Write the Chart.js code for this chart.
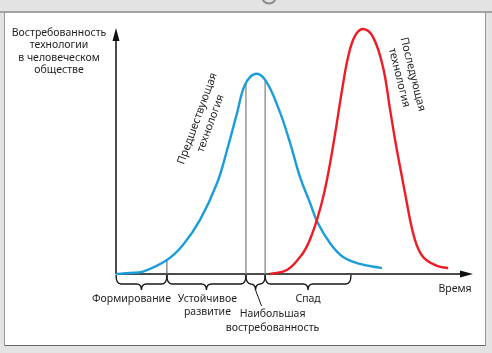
<!DOCTYPE html>
<html>
<head>
<meta charset="utf-8">
<script src="https://cdn.jsdelivr.net/npm/chart.js@4.4.0/dist/chart.umd.min.js"></script>
<style>
  html, body { margin: 0; padding: 0; background: #fff; }
  canvas { display: block; }
</style>
</head>
<body>
<canvas id="chart" width="492" height="353"></canvas>
<script>
// Demand curves (time 0..100, demand 0..100, arbitrary units)
const prevTime   = [0, 3.9, 7.6, 14.3, 18.8, 23.6, 28.4, 31.2, 34.0, 36.2, 39.0, 41.9, 45.8, 48.9, 51.7, 54.5, 56.7, 60.1, 63.8, 68.5, 74.7];
const prevDemand = [0, 0.4, 1.0, 5.7, 11.8, 22.0, 37.0, 50.4, 65.4, 76.8, 81.3, 78.9, 66.7, 53.3, 39.4, 28.9, 20.7, 12.6, 6.9, 4.1, 2.4];

const nextTime   = [43.3, 48.0, 51.7, 53.4, 55.1, 56.7, 58.4, 60.1, 61.8, 63.5, 65.2, 67.1, 69.4, 72.2, 75.0, 77.0, 78.4, 79.8, 81.5, 83.1, 84.8, 86.8, 90.2, 93.3];
const nextDemand = [0, 1.6, 6.9, 10.6, 16.3, 23.2, 32.5, 44.7, 59.3, 74.8, 88.2, 96.7, 99.6, 96.3, 84.1, 66.7, 54.5, 43.5, 30.5, 18.7, 10.6, 6.1, 3.3, 2.4];

// Life-cycle phases of the previous technology
const phaseBounds = [0, 14.3, 36.5, 41.9, 66.0];
const phaseLabels = [["Формирование"], ["Устойчивое", "развитие"], ["Наибольшая", "востребованность"], ["Спад"]];

// Vertical guides under the blue curve
const guideTime   = [14.3, 36.5, 41.9];
const guideDemand = [5.7, 77.6, 79.3];

const yTitle = ["Востребованность", "технологии", "в человеческом", "обществе"];
const xTitle = "Время";
const prevName = ["Предшествующая", "технология"];
const nextName = ["Последующая", "технология"];

const FONT = '"Noto Sans", "Open Sans", sans-serif';
const TEXT = '#1e1e1e';

const toPoints = (xs, ys) => xs.map((x, i) => ({ x, y: ys[i] }));

const guideSets = guideTime.map((t, i) => ({
  data: [{ x: t, y: 0 }, { x: t, y: guideDemand[i] }],
  borderColor: i === 0 ? '#555' : '#8e8e8e',
  borderWidth: i === 0 ? 1 : 1.4,
  pointRadius: 0,
  tension: 0,
  clip: false,
  order: 3,
}));

function lines(ctx, arr, x, y, lh) {
  arr.forEach((s, i) => ctx.fillText(s, x, y + i * lh));
}

function brace(ctx, x1, x2, y0) {
  const r = 5, ym = y0 + 9, tip = y0 + 15, xc = (x1 + x2) / 2;
  ctx.beginPath();
  ctx.moveTo(x1, y0);
  ctx.quadraticCurveTo(x1, ym, x1 + r, ym);
  ctx.lineTo(xc - r, ym);
  ctx.quadraticCurveTo(xc, ym, xc, tip);
  ctx.quadraticCurveTo(xc, ym, xc + r, ym);
  ctx.lineTo(x2 - r, ym);
  ctx.quadraticCurveTo(x2, ym, x2, y0);
  ctx.stroke();
}

const frame = {
  id: 'frame',
  beforeDraw(chart) {
    const c = chart.ctx;
    c.save();
    c.fillStyle = '#e3e3e3';
    c.fillRect(0, 0, chart.width, chart.height);
    c.fillStyle = '#fff';
    c.fillRect(5, 13, 480, 332);
    c.strokeStyle = '#a3a3a3';
    c.lineWidth = 2;
    c.beginPath(); c.moveTo(0, 12); c.lineTo(chart.width, 12); c.stroke();
    c.lineWidth = 1;
    c.strokeStyle = '#999';
    c.beginPath(); c.moveTo(4.5, 12); c.lineTo(4.5, 345.5); c.stroke();
    c.beginPath(); c.moveTo(485.5, 12); c.lineTo(485.5, 345.5); c.stroke();
    c.strokeStyle = '#666';
    c.beginPath(); c.moveTo(4.5, 345.5); c.lineTo(485.5, 345.5); c.stroke();
    c.strokeStyle = '#8c8c8c';
    c.lineWidth = 2;
    c.beginPath(); c.arc(269, -3.5, 7, 0, Math.PI); c.stroke();
    c.restore();
  },
  beforeDatasetsDraw(chart) {
    const c = chart.ctx, a = chart.chartArea;
    const x0 = a.left, y0 = a.bottom;
    c.save();
    c.strokeStyle = '#111';
    c.fillStyle = '#111';
    c.lineWidth = 1.5;
    c.beginPath();
    c.moveTo(x0, y0); c.lineTo(x0, a.top + 10);
    c.moveTo(x0, y0); c.lineTo(a.right - 10, y0);
    c.stroke();
    c.beginPath();
    c.moveTo(x0, a.top); c.lineTo(x0 - 3.5, a.top + 13); c.lineTo(x0 + 3.5, a.top + 13); c.closePath();
    c.fill();
    c.beginPath();
    c.moveTo(a.right + 1, y0); c.lineTo(a.right - 12, y0 - 3.5); c.lineTo(a.right - 12, y0 + 3.5); c.closePath();
    c.fill();
    c.restore();
  },
  afterDatasetsDraw(chart) {
    const c = chart.ctx, xs = chart.scales.x, a = chart.chartArea;
    c.save();
    c.strokeStyle = '#1a1a1a';
    c.lineWidth = 1.4;
    for (let i = 0; i < phaseLabels.length; i++) {
      brace(c, xs.getPixelForValue(phaseBounds[i]), xs.getPixelForValue(phaseBounds[i + 1]), a.bottom + 1);
    }
    // leader line for the peak phase
    const pc = (xs.getPixelForValue(phaseBounds[2]) + xs.getPixelForValue(phaseBounds[3])) / 2;
    c.lineWidth = 1;
    c.beginPath(); c.moveTo(pc, a.bottom + 16); c.lineTo(pc + 6, a.bottom + 32); c.stroke();

    c.fillStyle = TEXT;
    c.font = '10.5px ' + FONT;
    c.textAlign = 'center';
    c.textBaseline = 'middle';
    const centers = phaseLabels.map((_, i) => (xs.getPixelForValue(phaseBounds[i]) + xs.getPixelForValue(phaseBounds[i + 1])) / 2);
    lines(c, phaseLabels[0], centers[0] - 10, a.bottom + 25, 13.5);
    lines(c, phaseLabels[1], centers[1] + 1, a.bottom + 25, 13.5);
    lines(c, phaseLabels[2], pc + 17, a.bottom + 40, 14);
    lines(c, phaseLabels[3], centers[3], a.bottom + 25, 13.5);

    c.fillText(xTitle, a.right - 17, a.bottom + 15);
    lines(c, yTitle, 59, 33, 12.4);

    c.font = '11px ' + FONT;
    c.save();
    c.translate(204, 121);
    c.rotate(-70 * Math.PI / 180);
    lines(c, prevName, 0, -7, 14);
    c.restore();
    c.save();
    c.translate(406, 76);
    c.rotate(76 * Math.PI / 180);
    lines(c, nextName, 0, -7, 14);
    c.restore();
    c.restore();
  }
};

new Chart(document.getElementById('chart'), {
  type: 'line',
  data: {
    datasets: [
      {
        data: toPoints(nextTime, nextDemand),
        borderColor: '#ee1c25',
        borderWidth: 2.4,
        pointRadius: 0,
        tension: 0.4,
        clip: false,
        order: 1,
      },
      {
        data: toPoints(prevTime, prevDemand),
        borderColor: '#1b9dd9',
        borderWidth: 2.4,
        pointRadius: 0,
        tension: 0.4,
        clip: false,
        order: 2,
      },
      ...guideSets,
    ],
  },
  options: {
    responsive: false,
    animation: false,
    devicePixelRatio: 1,
    layout: { padding: { left: 116, right: 20, top: 28, bottom: 79 } },
    scales: {
      x: { type: 'linear', min: 0, max: 100, display: false },
      y: { type: 'linear', min: 0, max: 100, display: false },
    },
    plugins: {
      legend: { display: false },
      tooltip: { enabled: false },
    },
  },
  plugins: [frame],
});
</script>
</body>
</html>
